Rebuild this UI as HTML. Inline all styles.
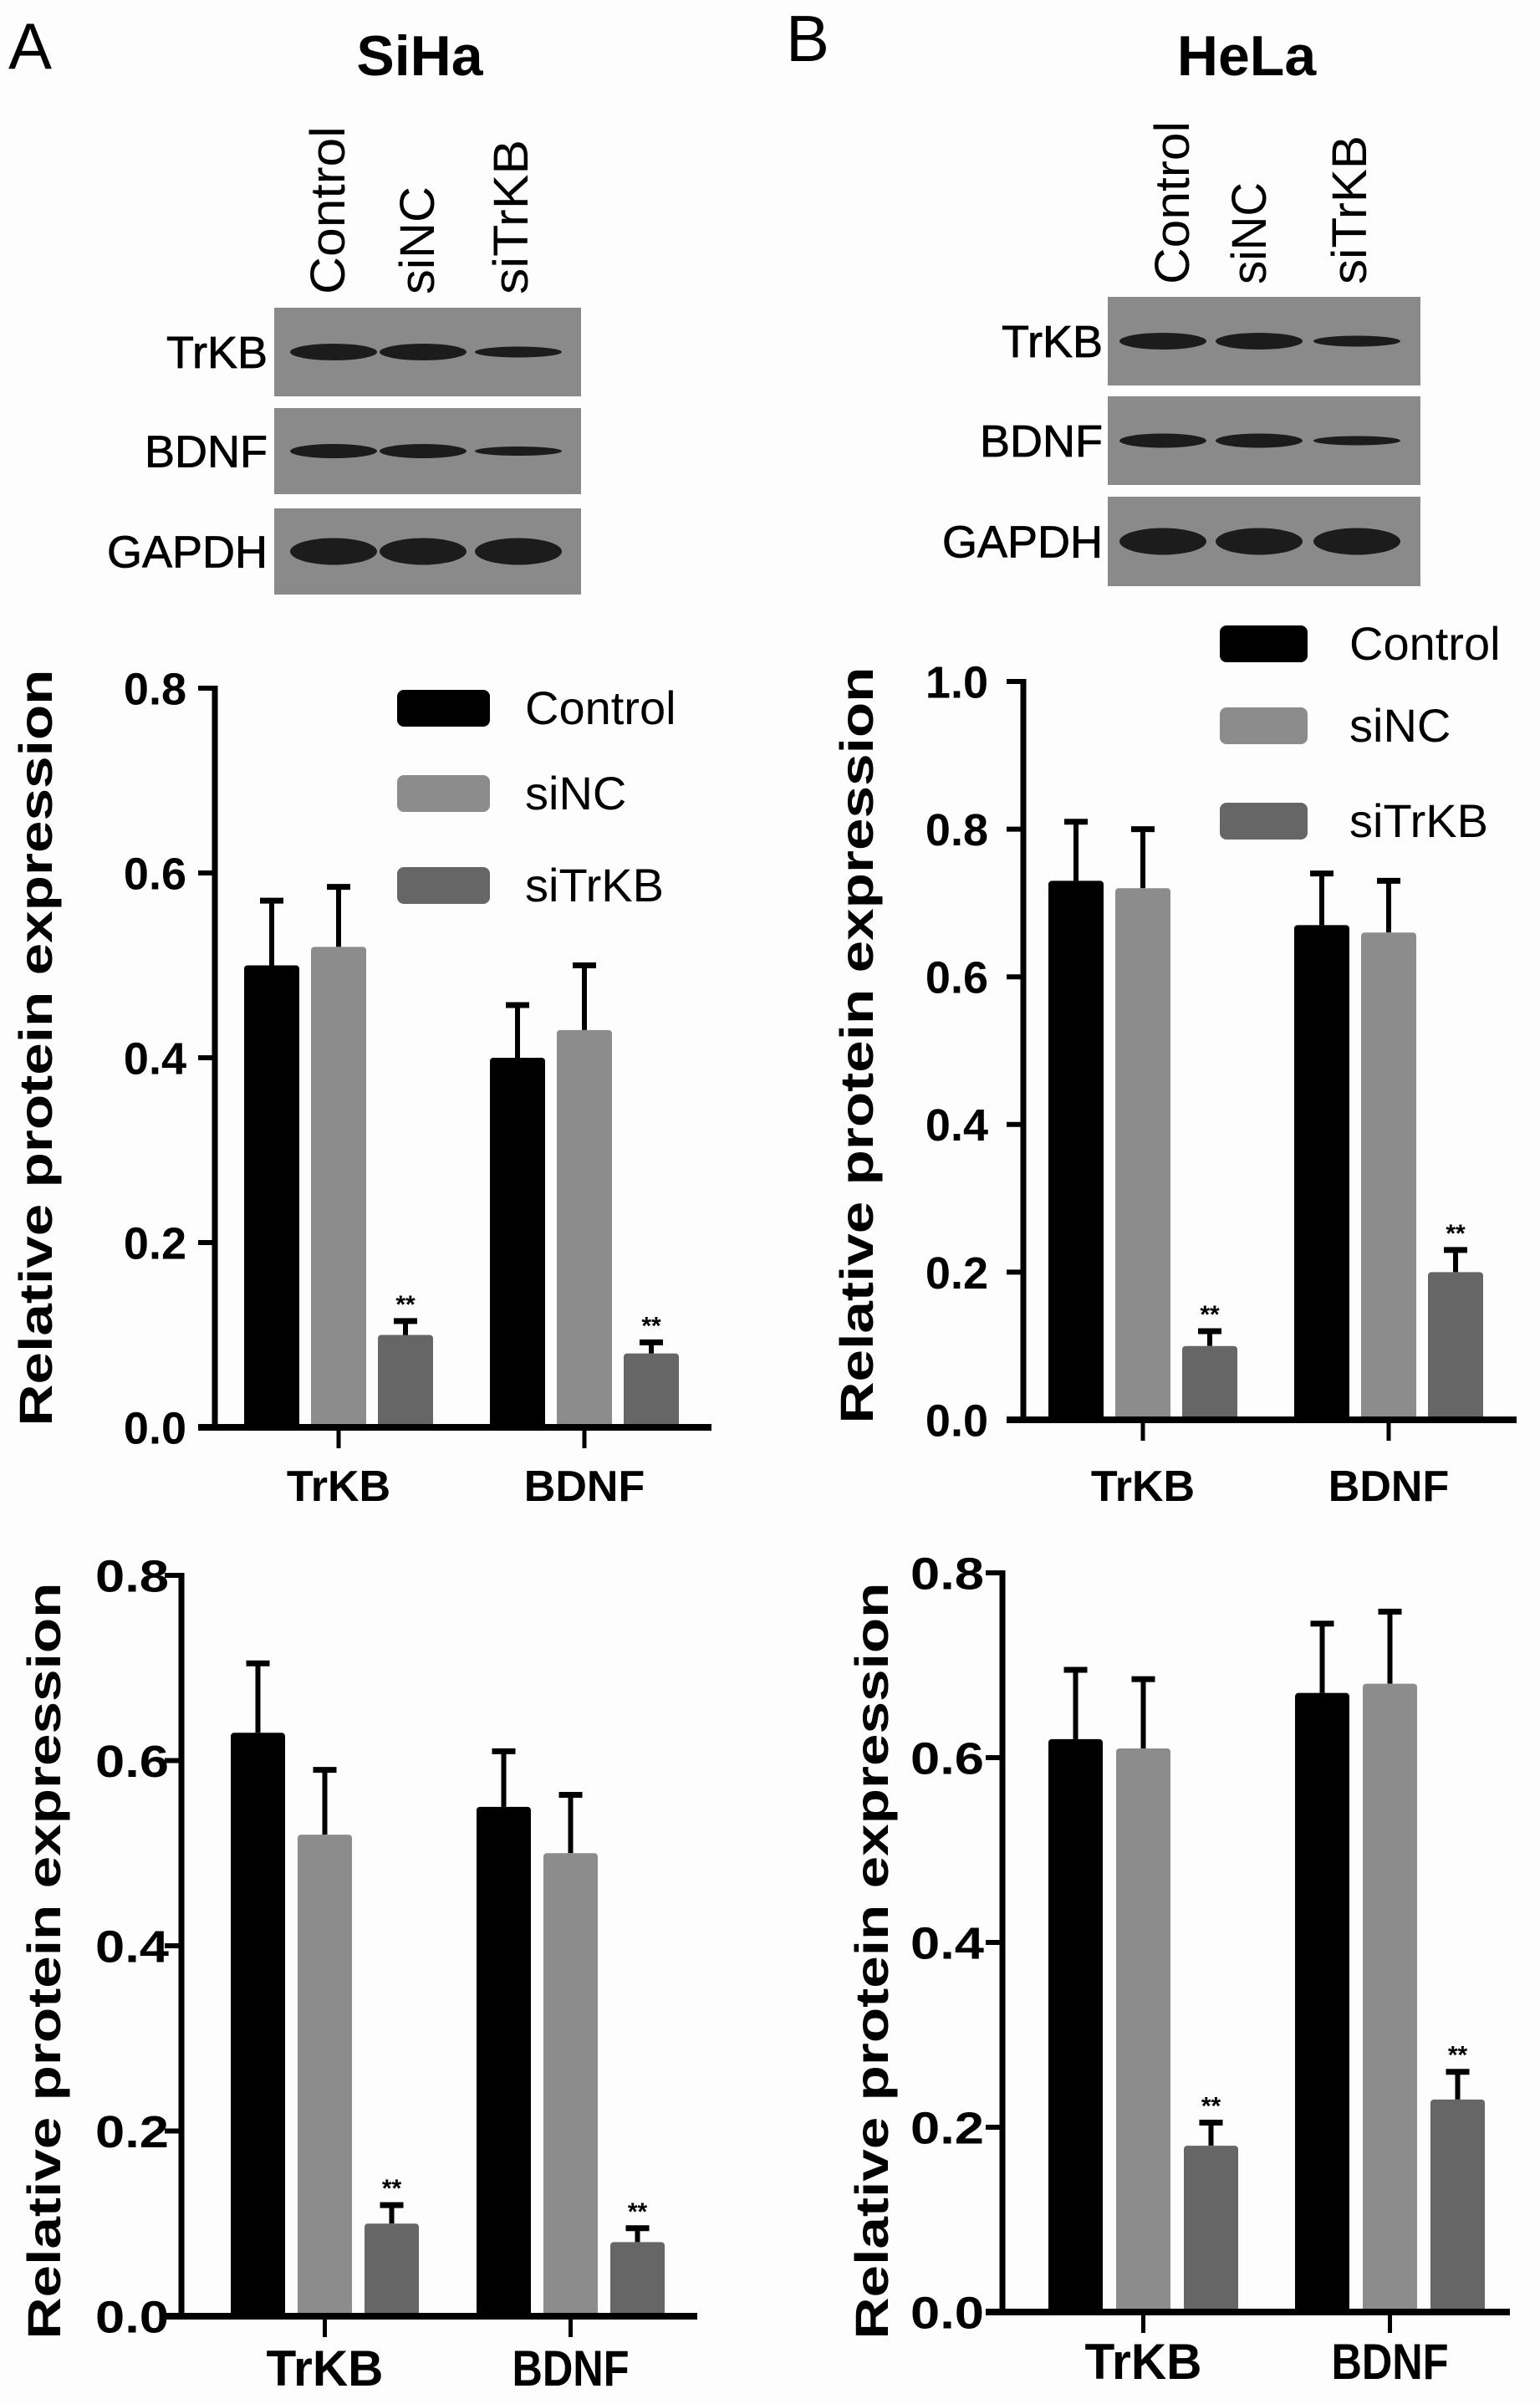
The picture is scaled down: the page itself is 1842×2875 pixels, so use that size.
<!DOCTYPE html>
<html><head><meta charset="utf-8"><style>
html,body{margin:0;padding:0;background:#fff}
svg{display:block}
text{font-family:"Liberation Sans",sans-serif}
</style></head><body>
<svg id="fig" width="1842" height="2875" viewBox="0 0 1842 2875" xmlns="http://www.w3.org/2000/svg">
<rect width="1842" height="2875" fill="#fdfdfd"/>
<text x="10" y="82" font-size="78">A</text>
<text x="940" y="73" font-size="78">B</text>
<text x="502" y="90" font-size="68" font-weight="bold" text-anchor="middle">SiHa</text>
<text x="1491" y="90" font-size="68" font-weight="bold" text-anchor="middle">HeLa</text>
<g id="blots"></g>
<g id="charts"></g>
</svg>
<script>
const NS="http://www.w3.org/2000/svg";
function mk(tag,attrs,parent,txt){const e=document.createElementNS(NS,tag);for(const k in attrs)e.setAttribute(k,attrs[k]);if(txt!==undefined)e.textContent=txt;parent.appendChild(e);return e;}

// ---- chart data ----
const categories=["TrKB","BDNF"];
const seriesNames=["Control","siNC","siTrKB"];
const aTopValues=[[0.50,0.40],[0.52,0.43],[0.10,0.08]];
const aTopErrors=[[0.07,0.057],[0.065,0.07],[0.015,0.012]];
const bTopValues=[[0.73,0.67],[0.72,0.66],[0.10,0.20]];
const bTopErrors=[[0.08,0.07],[0.08,0.07],[0.02,0.03]];
const aBotValues=[[0.63,0.55],[0.52,0.50],[0.10,0.08]];
const aBotErrors=[[0.075,0.06],[0.07,0.063],[0.02,0.015]];
const bBotValues=[[0.62,0.67],[0.61,0.68],[0.18,0.23]];
const bBotErrors=[[0.075,0.075],[0.075,0.078],[0.025,0.03]];
const ticksTo08=["0.0","0.2","0.4","0.6","0.8"];
const ticksTo10=["0.0","0.2","0.4","0.6","0.8","1.0"];
const colors=["#000000","#8c8c8c","#666666"];

const root=document.getElementById('charts');

function drawChart(id,cfg,values,errors,ticks){
  const g=mk('g',{},root);
  
  
  const ymax=parseFloat(ticks[ticks.length-1]);
  const y=v=>cfg.y0-(v/ymax)*(cfg.y0-cfg.yTop);
  for(let s=0;s<values.length;s++){
    for(let c=0;c<categories.length;c++){
      const x=cfg.groupStart[c]+s*cfg.step;
      const v=values[s][c], e=errors[s][c];
      const cx=x+cfg.bw/2;
      const eb=mk('line',{x1:cx,x2:cx,y1:y(v),y2:y(v+e),stroke:'#000','stroke-width':6},g);
      
      
      const cap=mk('line',{x1:cx-14,x2:cx+14,y1:y(v+e),y2:y(v+e),stroke:'#000','stroke-width':7},g);
      
      
      const r=mk('rect',{x:x,y:y(v),width:cfg.bw,height:cfg.y0-y(v),fill:colors[s],rx:4},g);
      
      
      if(s===2){
        const st=mk('text',{x:cx,y:y(v+e)-10,'font-size':30,'font-weight':'bold','text-anchor':'middle'},g,'**');
        
        
      }
    }
  }
  const ya=mk('line',{x1:cfg.x0,x2:cfg.x0,y1:cfg.yTop-3,y2:cfg.y0+3,stroke:'#000','stroke-width':7},g);
  
  
  const xa=mk('line',{x1:cfg.x0-20,x2:cfg.x1,y1:cfg.y0,y2:cfg.y0,stroke:'#000','stroke-width':8},g);
  
  
  ticks.forEach(t=>{
    const v=parseFloat(t);
    const tl=mk('line',{x1:cfg.x0-20,x2:cfg.x0,y1:y(v),y2:y(v),stroke:'#000','stroke-width':6},g);
    
    
    const tt=mk('text',{x:cfg.tickRight,y:y(v)+cfg.tickFont*0.36,'font-size':cfg.tickFont,'font-weight':'bold','text-anchor':'end'},g,t);
    if(cfg.tickLen)tt.setAttribute('textLength',cfg.tickLen),tt.setAttribute('lengthAdjust','spacingAndGlyphs');
    
    
  });
  categories.forEach((c,i)=>{
    const cx=cfg.groupStart[i]+cfg.step+cfg.bw/2;
    const tk=mk('line',{x1:cx,x2:cx,y1:cfg.y0,y2:cfg.y0+25,stroke:'#000','stroke-width':5},g);
    
    
    const lt=mk('text',{x:cx,y:cfg.xLabelY,'font-size':cfg.xFont,'font-weight':'bold','text-anchor':'middle'},g,c);
    if(cfg.xLen)lt.setAttribute('textLength',cfg.xLen),lt.setAttribute('lengthAdjust','spacingAndGlyphs');
    
    
  });
  const ty=mk('text',{x:0,y:0,'font-size':cfg.titleFont,'font-weight':'bold','text-anchor':'middle',transform:`translate(${cfg.titleX},${cfg.titleY}) rotate(-90)`,textLength:cfg.titleLen,lengthAdjust:'spacingAndGlyphs'},g,'Relative protein expression');
  
  
  if(cfg.legend){
    const L=cfg.legend;
    seriesNames.forEach((n,i)=>{
      const lr=mk('rect',{x:L.x,y:L.ys[i]-22,width:L.w,height:44,rx:8,fill:colors[i]},g);
      
      
      const lt=mk('text',{x:L.tx,y:L.ys[i]+19,'font-size':56},g,n);
      
      
    });
  }
}

drawChart('chart-siha-top',{x0:257,x1:851,yTop:823,y0:1707,groupStart:[292,586],step:80,bw:66,tickRight:223,tickFont:54,xLabelY:1795,xFont:52,titleX:62,titleY:1253,titleFont:56,titleLen:905,legend:{x:475,w:111,ys:[847,949,1059],tx:628}},aTopValues,aTopErrors,ticksTo08);
drawChart('chart-hela-top',{x0:1224,x1:1814,yTop:815,y0:1698,groupStart:[1254,1548],step:80,bw:66,tickRight:1182,tickFont:54,xLabelY:1795,xFont:52,titleX:1044,titleY:1250,titleFont:56,titleLen:905,legend:{x:1459,w:105,ys:[770,868,982],tx:1614}},bTopValues,bTopErrors,ticksTo10);
drawChart('chart-siha-bottom',{x0:217,x1:834,yTop:1884,y0:2770,groupStart:[276,570],step:80,bw:65,tickRight:202,tickFont:54,tickLen:88,xLabelY:2853,xFont:60,xLen:140,titleX:72,titleY:2345,titleFont:56,titleLen:905},aBotValues,aBotErrors,ticksTo08);
drawChart('chart-hela-bottom',{x0:1199,x1:1806,yTop:1881,y0:2765,groupStart:[1254,1549],step:81,bw:65,tickRight:1177,tickFont:54,tickLen:88,xLabelY:2845,xFont:60,xLen:140,titleX:1062,titleY:2345,titleFont:56,titleLen:905},bBotValues,bBotErrors,ticksTo08);

// ---- western blots ----
const blots=document.getElementById('blots');
function drawBlot(id,x0,x1,rows,lanes,labelRight,laneLabels,bandW){
  const g=mk('g',{},blots);
  
  
  const names=["TrKB","BDNF","GAPDH"];
  const thick=[20,17,32];
  rows.forEach((r,i)=>{
    const rr=mk('rect',{x:x0,y:r[0],width:x1-x0,height:r[1]-r[0],fill:'#8a8a8a'},g);
    
    
    const cy=(r[0]+r[1])/2;
    lanes.forEach((lx,j)=>{
      let t=thick[i]; if(j===2&&i<2)t*=0.65;
      const b=mk('ellipse',{cx:lx,cy:cy,rx:bandW/2,ry:t/2,fill:'#1c1c1c'},g);
      
      
    });
    const lt=mk('text',{x:labelRight,y:cy+19,'font-size':54,'text-anchor':'end',stroke:'#000','stroke-width':0.8},g,names[i]);
    
    
  });
  laneLabels.forEach(l=>{
    const t=mk('text',{x:0,y:0,'font-size':58,transform:`translate(${l[0]+20},${l[2]}) rotate(-90)`,textLength:l[2]-l[1],lengthAdjust:'spacingAndGlyphs'},g,l[3]);
    
    
  });
}
drawBlot('blot-siha',328,695,[[368,474],[488,591],[608,711]],[399,506,620],320,[[392,151,352,'Control'],[499,223,352,'siNC'],[611,167,352,'siTrKB']],104);
drawBlot('blot-hela',1325,1699,[[355,461],[474,580],[594,701]],[1391,1506,1623],1319,[[1402,145,340,'Control'],[1494,218,340,'siNC'],[1614,162,340,'siTrKB']],104);
</script>
</body></html>
